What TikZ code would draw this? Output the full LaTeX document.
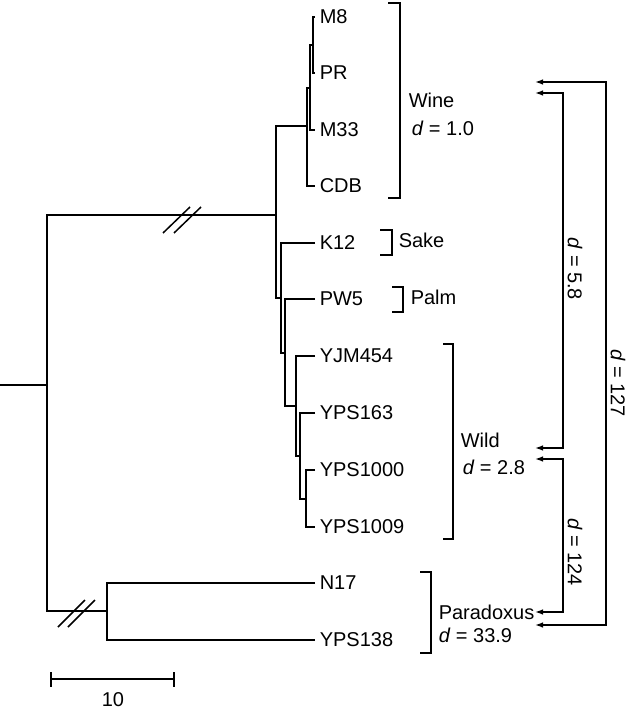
\documentclass[tikz,border=0pt]{standalone}
\usepackage{fontspec}
\setmainfont{Liberation Sans}
\usetikzlibrary{arrows.meta}
\tikzset{
    leaf/.style={anchor=west,inner xsep=2pt,inner ysep=0pt},
    grp/.style={anchor=west,inner sep=0pt},
    dist/.style={rotate=-90,inner sep=0pt}
}
\begin{document}
\begin{tikzpicture}[x=0.5pt,y=-0.5pt,line width=0.75pt,>={Latex[length=4pt,width=2.8pt]}]
    \useasboundingbox (0,0) rectangle (631,711);

    \foreach \name/\y in {M8/17,PR/73,M33/130,CDB/186,K12/243,PW5/299,YJM454/356,
                          YPS163/413,YPS1000/470,YPS1009/527,N17/583,YPS138/640}
        \node[leaf] (\name) at (315,\y) {\name};

    \coordinate (mp) at (313,45);
    \coordinate (mpm) at (310,88);
    \coordinate (wine) at (307,126);
    \coordinate (b0) at (276,215);
    \coordinate (b1) at (281,298);
    \coordinate (b2) at (285,353);
    \coordinate (b3) at (296,406);
    \coordinate (b4) at (300,456);
    \coordinate (b5) at (306,499);
    \coordinate (para) at (107,611);
    \coordinate (root) at (47,385);
    \coordinate (stem) at (0,385);

    \foreach \p/\a/\b in {mp/M8/PR,mpm/mp/M33,wine/mpm/CDB,b0/wine/b1,b1/K12/b2,
                          b2/PW5/b3,b3/YJM454/b4,b4/YPS163/b5,b5/YPS1000/YPS1009,
                          para/N17/YPS138,root/b0/para}
        \draw (\a) -| (\p) |- (\b);
    \draw (stem) -- (root);

    \foreach \dx in {0,11}
        \draw (163+\dx,233) -- ++(27,-26);
    \foreach \dx in {0,10}
        \draw (58+\dx,627) -- ++(27,-27);

    \draw (388,3) -- (400,3) -- (400,198) -- (388,198);
    \draw (380,230) -- (392,230) -- (392,255) -- (380,255);
    \draw (392,287) -- (403,287) -- (403,312) -- (392,312);
    \draw (443,344) -- (453,344) -- (453,539) -- (443,539);
    \draw (420,572) -- (431,572) -- (431,653) -- (420,653);

    \node[grp] (winelbl) at (408,100) {Wine};
    \node[grp] (wined) at (411,128) {\textit{d} = 1.0};
    \node[grp] (sakelbl) at (398,240) {Sake};
    \node[grp] (palmlbl) at (410,297) {Palm};
    \node[grp] (wildlbl) at (460,440) {Wild};
    \node[grp] (wildd) at (462,467) {\textit{d} = 2.8};
    \node[grp] (paralbl) at (438,612) {Paradoxus};
    \node[grp] (parad) at (438,635) {\textit{d} = 33.9};

    \coordinate (wine7) at (535,82);
    \coordinate (wine5) at (535,93);
    \coordinate (wild5) at (535,448);
    \coordinate (wild4) at (535,459);
    \coordinate (para4) at (535,612);
    \coordinate (para7) at (535,625);

    \draw[<->] (wine5) -- ++(28,0) |- (wild5);
    \draw[<->] (wild4) -- ++(28,0) |- (para4);
    \draw[<->] (wine7) -- ++(71,0) |- (para7);

    \node[dist] (d58) at (575,269) {\textit{d} = 5.8};
    \node[dist] (d124) at (575,552) {\textit{d} = 124};
    \node[dist] (d127) at (618,383) {\textit{d} = 127};

    \draw (51,672) -- (51,687) (51,679) -- (174,679) (174,672) -- (174,687);
    \node (bar) at (113,700) {10};
\end{tikzpicture}
\end{document}
